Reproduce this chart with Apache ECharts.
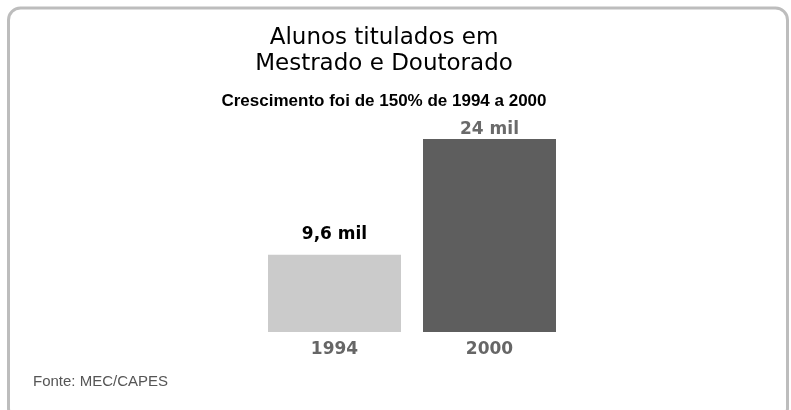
<!DOCTYPE html>
<html>
<head>
<meta charset="utf-8">
<script src="https://cdn.jsdelivr.net/npm/echarts@6/dist/echarts.min.js"></script>
<style>
  html, body { margin: 0; padding: 0; background: #fff; }
  #chart { width: 791px; height: 410px; }
</style>
</head>
<body>
<div id="chart"></div>
<script>
const years = ['1994', '2000']
const values = [9.6, 24]
const valueLabels = ['9,6 mil', '24 mil']
const barColors = ['#cbcbcb', '#5e5e5e']
const labelColors = ['#000000', '#6a6a6a']

const chart = echarts.init(document.getElementById('chart'), null, { renderer: 'canvas' })

const font = 'Liberation Sans, Arial, sans-serif'
const wideFont = 'DejaVu Sans, Verdana, sans-serif'

chart.setOption({
  backgroundColor: '#ffffff',
  animation: false,
  title: [
    {
      text: 'Alunos titulados em\nMestrado e Doutorado',
      left: 384,
      top: 25,
      padding: 0,
      textAlign: 'center',
      textStyle: { fontFamily: wideFont, fontSize: 23, fontWeight: 'normal', color: '#000', lineHeight: 26 }
    },
    {
      text: 'Crescimento foi de 150% de 1994 a 2000',
      left: 384,
      top: 93,
      padding: 0,
      textAlign: 'center',
      textStyle: { fontFamily: font, fontSize: 17, fontWeight: 'bold', color: '#000' }
    },
    {
      text: 'Fonte: MEC/CAPES',
      left: 33,
      top: 374,
      padding: 0,
      textStyle: { fontFamily: font, fontSize: 15, fontWeight: 'normal', color: '#555' }
    }
  ],
  grid: { left: 257, right: 224, top: 139, bottom: 78 },
  xAxis: {
    type: 'category',
    data: years,
    axisLine: { show: false },
    axisTick: { show: false },
    axisLabel: { margin: 9, fontFamily: wideFont, fontSize: 17, fontWeight: 'bold', color: '#666' }
  },
  yAxis: {
    type: 'value',
    min: 0,
    max: 24,
    show: false,
    splitLine: { show: false }
  },
  series: [{
    type: 'bar',
    barWidth: 133,
    data: values.map((v, i) => ({
      value: v,
      itemStyle: { color: barColors[i] },
      label: {
        show: true,
        position: 'top',
        distance: i === 0 ? 12 : 1,
        formatter: valueLabels[i],
        fontFamily: wideFont,
        fontSize: 17,
        fontWeight: 'bold',
        color: labelColors[i]
      }
    }))
  }],
  graphic: [{
    type: 'rect',
    shape: { x: 8.5, y: 8, width: 779, height: 412, r: 12 },
    style: { fill: 'none', stroke: '#bdbdbd', lineWidth: 3 },
    silent: true
  }]
})
</script>
</body>
</html>
